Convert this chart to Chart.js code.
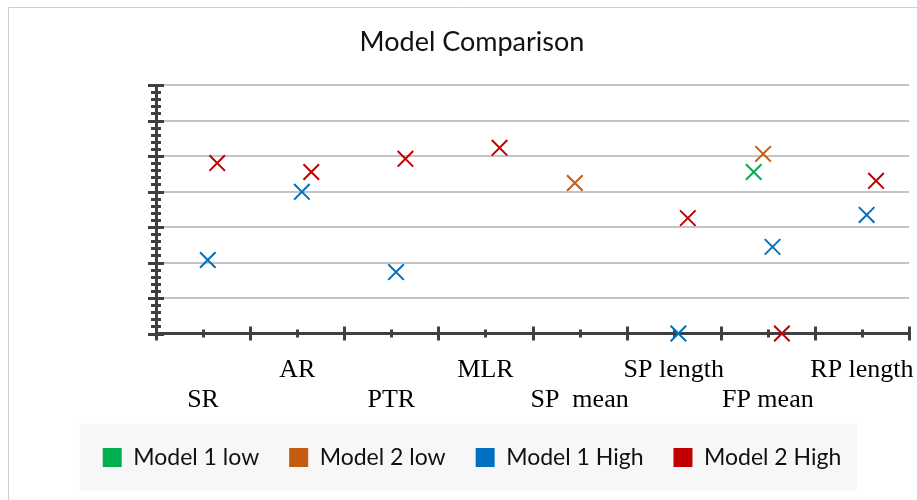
<!DOCTYPE html>
<html>
<head>
<meta charset="utf-8">
<title>Model Comparison</title>
<script src="https://cdn.jsdelivr.net/npm/chart.js@4.4.1/dist/chart.umd.min.js"></script>
<style>
  html, body { margin: 0; padding: 0; background: #fff; }
  canvas { display: block; }
</style>
</head>
<body>
<canvas id="comparisonChart" width="917" height="500"></canvas>
<script>
const categories = ["SR", "AR", "PTR", "MLR", "SP  mean", "SP length", "FP mean", "RP length"];

// one value per category, null where the model has no result
const model1Low  = [null, null, null, null, null, null, 4.55, null];
const model2Low  = [null, null, null, null, 4.24, null, 5.06, null];
const model1High = [2.07, 3.99, 1.73, null, null, 0, 2.44, 3.34];
const model2High = [4.80, 4.55, 4.92, 5.23, null, 3.25, 0, 4.30];

const yMax = 7;

const AXIS_COLOR = "#404040";
const GRID_COLOR = "#c4c4c4";

// each series sits a little to the right of its category start
function toPoints(values, shift) {
  return values
    .map((v, i) => (v === null ? null : { x: i + shift, y: v }))
    .filter((p) => p !== null);
}

function series(label, values, shift, color) {
  return {
    label: label,
    data: toPoints(values, shift),
    pointStyle: "crossRot",
    pointRadius: 11,
    pointHoverRadius: 11,
    borderWidth: 2,
    borderColor: color,
    backgroundColor: color,
    clip: false,
  };
}

// frame, legend panel and the crossing tick marks on both axes
const chartDecor = {
  id: "chartDecor",
  beforeDraw(chart) {
    const ctx = chart.ctx;
    ctx.save();
    ctx.fillStyle = "#fff";
    ctx.fillRect(0, 0, chart.width, chart.height);
    ctx.strokeStyle = "#cfcfcf";
    ctx.lineWidth = 1;
    ctx.beginPath();
    ctx.moveTo(8.5, chart.height);
    ctx.lineTo(8.5, 7.5);
    ctx.lineTo(chart.width, 7.5);
    ctx.stroke();

    const boxes = chart.legend.legendHitBoxes;
    if (boxes && boxes.length) {
      const first = boxes[0];
      const last = boxes[boxes.length - 1];
      const mid = first.top + first.height / 2;
      ctx.fillStyle = "#f7f7f7";
      ctx.fillRect(first.left - 23, mid - 34, last.left + last.width + 16 - (first.left - 23), 67);
    }
    ctx.restore();
  },
  beforeDatasetsDraw(chart) {
    const { ctx, chartArea, scales } = chart;
    const x = scales.x;
    const y = scales.y;
    ctx.save();
    ctx.strokeStyle = AXIS_COLOR;
    ctx.lineWidth = 3;
    ctx.beginPath();
    for (let i = 0; i <= yMax * 5; i++) {
      const py = Math.round(y.getPixelForValue(i / 5)) + 0.5;
      const half = i % 5 === 0 ? 8 : 5;
      ctx.moveTo(chartArea.left - half, py);
      ctx.lineTo(chartArea.left + half, py);
    }
    for (let i = 0; i <= categories.length * 2; i++) {
      const px = Math.round(x.getPixelForValue(i / 2)) + 0.5;
      const half = i % 2 === 0 ? 7 : 4;
      ctx.moveTo(px, chartArea.bottom - half);
      ctx.lineTo(px, chartArea.bottom + half);
    }
    ctx.stroke();
    ctx.restore();
  },
};

new Chart(document.getElementById("comparisonChart"), {
  type: "scatter",
  data: {
    datasets: [
      series("Model 1 low", model1Low, 0.35, "#00b050"),
      series("Model 2 low", model2Low, 0.45, "#c55a11"),
      series("Model 1 High", model1High, 0.55, "#0070c0"),
      series("Model 2 High", model2High, 0.65, "#c00000"),
    ],
  },
  options: {
    responsive: false,
    animation: false,
    layout: {
      autoPadding: false,
      padding: { left: 35, right: 8, top: 7, bottom: 21 },
    },
    scales: {
      x: {
        type: "linear",
        min: 0,
        max: categories.length,
        afterFit(scale) {
          scale.height = 82.5;
          // labels never reach the ends, so no side padding is needed
          scale.paddingLeft = 0;
          scale.paddingRight = 0;
        },
        grid: { display: false, drawTicks: false },
        border: { display: true, color: AXIS_COLOR, width: 3 },
        ticks: {
          stepSize: 0.5,
          autoSkip: false,
          maxRotation: 0,
          minRotation: 0,
          padding: 22,
          color: "#000",
          font: { family: "'Liberation Serif', 'Times New Roman', serif", size: 26, lineHeight: 1.15 },
          callback(value) {
            const idx = value - 0.5;
            if (!Number.isInteger(idx) || idx < 0 || idx >= categories.length) return "";
            return idx % 2 === 0 ? ["", categories[idx]] : [categories[idx]];
          },
        },
      },
      y: {
        min: 0,
        max: yMax,
        afterFit(scale) {
          scale.width = 121;
        },
        ticks: { display: false, stepSize: 1 },
        grid: { color: GRID_COLOR, lineWidth: 2, drawTicks: false },
        border: { display: true, color: AXIS_COLOR, width: 3 },
      },
    },
    plugins: {
      title: {
        display: true,
        text: "Model Comparison",
        color: "#111",
        font: { family: "Lato, 'Open Sans', sans-serif", size: 27, weight: "normal", lineHeight: 1.2 },
        padding: { top: 19, bottom: 26.6 },
      },
      legend: {
        position: "bottom",
        labels: {
          boxWidth: 19,
          boxHeight: 19,
          padding: 30,
          color: "#111",
          font: { family: "Lato, 'Open Sans', sans-serif", size: 23 },
          generateLabels(chart) {
            return Chart.defaults.plugins.legend.labels
              .generateLabels(chart)
              .map((item) => ({ ...item, lineWidth: 0 }));
          },
        },
      },
      tooltip: { enabled: false },
    },
  },
  plugins: [chartDecor],
});
</script>
</body>
</html>
